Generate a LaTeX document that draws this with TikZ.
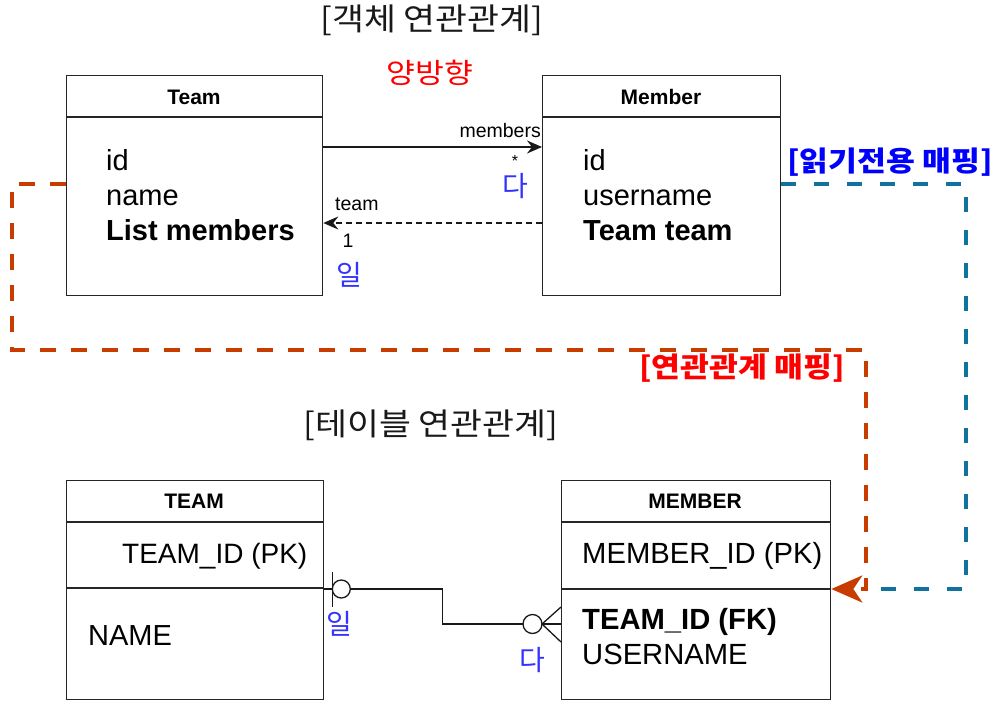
\documentclass[tikz,border=0pt]{standalone}
\usepackage{fontspec}
\setmainfont{Liberation Sans}
\newfontfamily\kr{Noto Sans CJK KR}
\newfontfamily\krw[FakeStretch=1.12]{Noto Sans CJK KR}
\usetikzlibrary{arrows.meta,calc}
\definecolor{rdash}{RGB}{201,60,0}
\definecolor{bdash}{RGB}{16,115,158}
\definecolor{lblue}{RGB}{51,51,255}
\tikzset{
  box/.style={draw=black!85, line width=1.3pt, rectangle, inner sep=0pt},
  boxline/.style={draw=black!85, line width=1.3pt},
  body/.style={inner sep=0pt, font=\fontsize{29}{34}\selectfont},
  bodyb/.style={inner sep=0pt, font=\fontsize{29}{34}\selectfont\bfseries},
  head/.style={inner sep=0pt, font=\fontsize{21}{25}\selectfont\bfseries},
  lbl/.style={inner sep=0pt, font=\fontsize{19.5}{23}\selectfont},
  krlbl/.style={inner sep=0pt, text=lblue, font=\kr\fontsize{28}{32}\selectfont},
  ktitle/.style={inner sep=0pt, text=black!90, font=\krw\fontsize{31}{35}\selectfont},
  kmap/.style={inner sep=0pt, font=\krw\fontsize{28}{32}\selectfont\bfseries},
  conn/.style={line width=1.3pt, draw=black!90},
  tipA/.style={-{Stealth[length=15pt,width=13pt,inset=5pt]}},
  reddash/.style={draw=rdash, line width=4pt, dash pattern=on 16pt off 15pt},
  bluedash/.style={draw=bdash, line width=4pt, dash pattern=on 15pt off 18pt},
}
\begin{document}
\begin{tikzpicture}[x=1pt,y=-1pt]
\useasboundingbox (0,0) rectangle (995,706);

% titles
\node[ktitle] (t1) at (432,20) {[객체 연관관계]};
\node[inner sep=0pt, text=red, font=\krw\fontsize{28}{32}\selectfont] (t2) at (430,73) {양방향};
\node[ktitle] (t3) at (431,425) {[테이블 연관관계]};

% object boxes
\node[box, minimum width=256pt, minimum height=220pt, anchor=north west] (team) at (66,75) {};
\node[box, minimum width=238pt, minimum height=220pt, anchor=north west] (member) at (542,75) {};
\draw[boxline] ($(team.north west)+(0,42)$) -- ($(team.north east)+(0,42)$);
\draw[boxline] ($(member.north west)+(0,42)$) -- ($(member.north east)+(0,42)$);
\node[head, anchor=base] (teamh) at (194,104.5) {Team};
\node[head, anchor=base] (memberh) at (661,104.5) {Member};
\node[body, anchor=base west] (ta) at (106,170) {id};
\node[body, anchor=base west] (tb) at (106,205) {name};
\node[bodyb, anchor=base west] (tc) at (106,240) {List members};
\node[body, anchor=base west] (ma) at (583,170) {id};
\node[body, anchor=base west] (mb) at (583,205) {username};
\node[bodyb, anchor=base west] (mc) at (583,240) {Team team};

% object associations
\draw[conn, tipA] ($(team.north east)+(0,72)$) -- ($(member.north west)+(0,72)$);
\draw[conn, tipA, line width=1.2pt, dash pattern=on 6pt off 4pt] ($(member.north west)+(0,148)$) -- ($(team.north east)+(0,148)$);
\node[lbl, anchor=base east] (lm) at (541,138) {members};
\node[lbl, anchor=center, font=\fontsize{16}{18}\selectfont] (ls) at (515,161) {*};
\node[krlbl] (lda) at (515,186) {다};
\node[lbl, anchor=base west] (lt) at (335,210) {team};
\node[lbl, anchor=center] (l1) at (348,241) {1};
\node[krlbl] (lil) at (349,275) {일};

% table boxes
\node[box, minimum width=257pt, minimum height=219pt, anchor=north west] (tteam) at (66,480) {};
\node[box, minimum width=269pt, minimum height=219pt, anchor=north west] (tmember) at (561,480) {};
\draw[boxline] ($(tteam.north west)+(0,42)$) -- ($(tteam.north east)+(0,42)$);
\draw[boxline] ($(tteam.north west)+(0,108)$) -- ($(tteam.north east)+(0,108)$);
\draw[boxline] ($(tmember.north west)+(0,42)$) -- ($(tmember.north east)+(0,42)$);
\draw[boxline] ($(tmember.north west)+(0,109)$) -- ($(tmember.north east)+(0,109)$);
\node[head, anchor=base] (tth) at (194,508.5) {TEAM};
\node[head, anchor=base] (tmh) at (695,508.5) {MEMBER};
\node[body, font=\fontsize{28}{34}\selectfont, anchor=base west] (tta) at (122,563) {TEAM\_ID (PK)};
\node[body, font=\fontsize{29}{34}\selectfont, anchor=base west] (ttb) at (88,645) {NAME};
\node[body, font=\fontsize{29.2}{34}\selectfont, anchor=base west] (tma) at (582,563) {MEMBER\_ID (PK)};
\node[bodyb, font=\fontsize{29.2}{34}\selectfont\bfseries, anchor=base west] (tmb) at (582,629) {TEAM\_ID (FK)};
\node[body, font=\fontsize{29.2}{34}\selectfont, anchor=base west] (tmc) at (582,664) {USERNAME};

% ER connector
\coordinate (erA) at ($(tteam.north east)+(0,109)$);
\coordinate (erB) at ($(tmember.north west)+(0,144)$);
\coordinate (bar) at ($(erA)+(8,0)$);
\coordinate (c1) at ($(erA)+(17,0)$);
\coordinate (c2) at ($(erB)+(-28.5,0)$);
\coordinate (foot) at ($(erB)+(-19,0)$);
\draw[conn] (erA) -- (bar);
\draw[conn] ($(bar)+(0,-17)$) -- ($(bar)+(0,18)$);
\draw[conn] (c1) circle (9pt);
\draw[conn] ($(c1)+(9,0)$) -| ($(erA)!0.5!(erB)$) |- ($(c2)+(-9.5,0)$);
\draw[conn] (c2) circle (9.5pt);
\draw[conn] (foot) -- (erB);
\draw[conn] ($(erB)+(0,-17)$) -- (foot) -- ($(erB)+(0,18)$);
\node[krlbl] (bil) at (339,624) {일};
\node[krlbl] (bda) at (532,660) {다};

% mapping lines
\coordinate (bend) at ($(tmember.north east)+(40,109)$);
\draw[bluedash] ($(member.north east)+(0,109)$) -| ($(tmember.north east)+(135,109)$) -- (bend);
\draw[reddash, -{Stealth[length=31pt,width=27pt,inset=9pt]}] ($(team.north west)+(0,109)$) -| (12,350) -| (866,589) -- ($(tmember.north east)+(0,109)$);
\node[kmap, text=blue] (rmap) at (890,162) {[읽기전용 매핑]};
\node[kmap, text=red] (amap) at (742,368) {[연관관계 매핑]};
\end{tikzpicture}
\end{document}
